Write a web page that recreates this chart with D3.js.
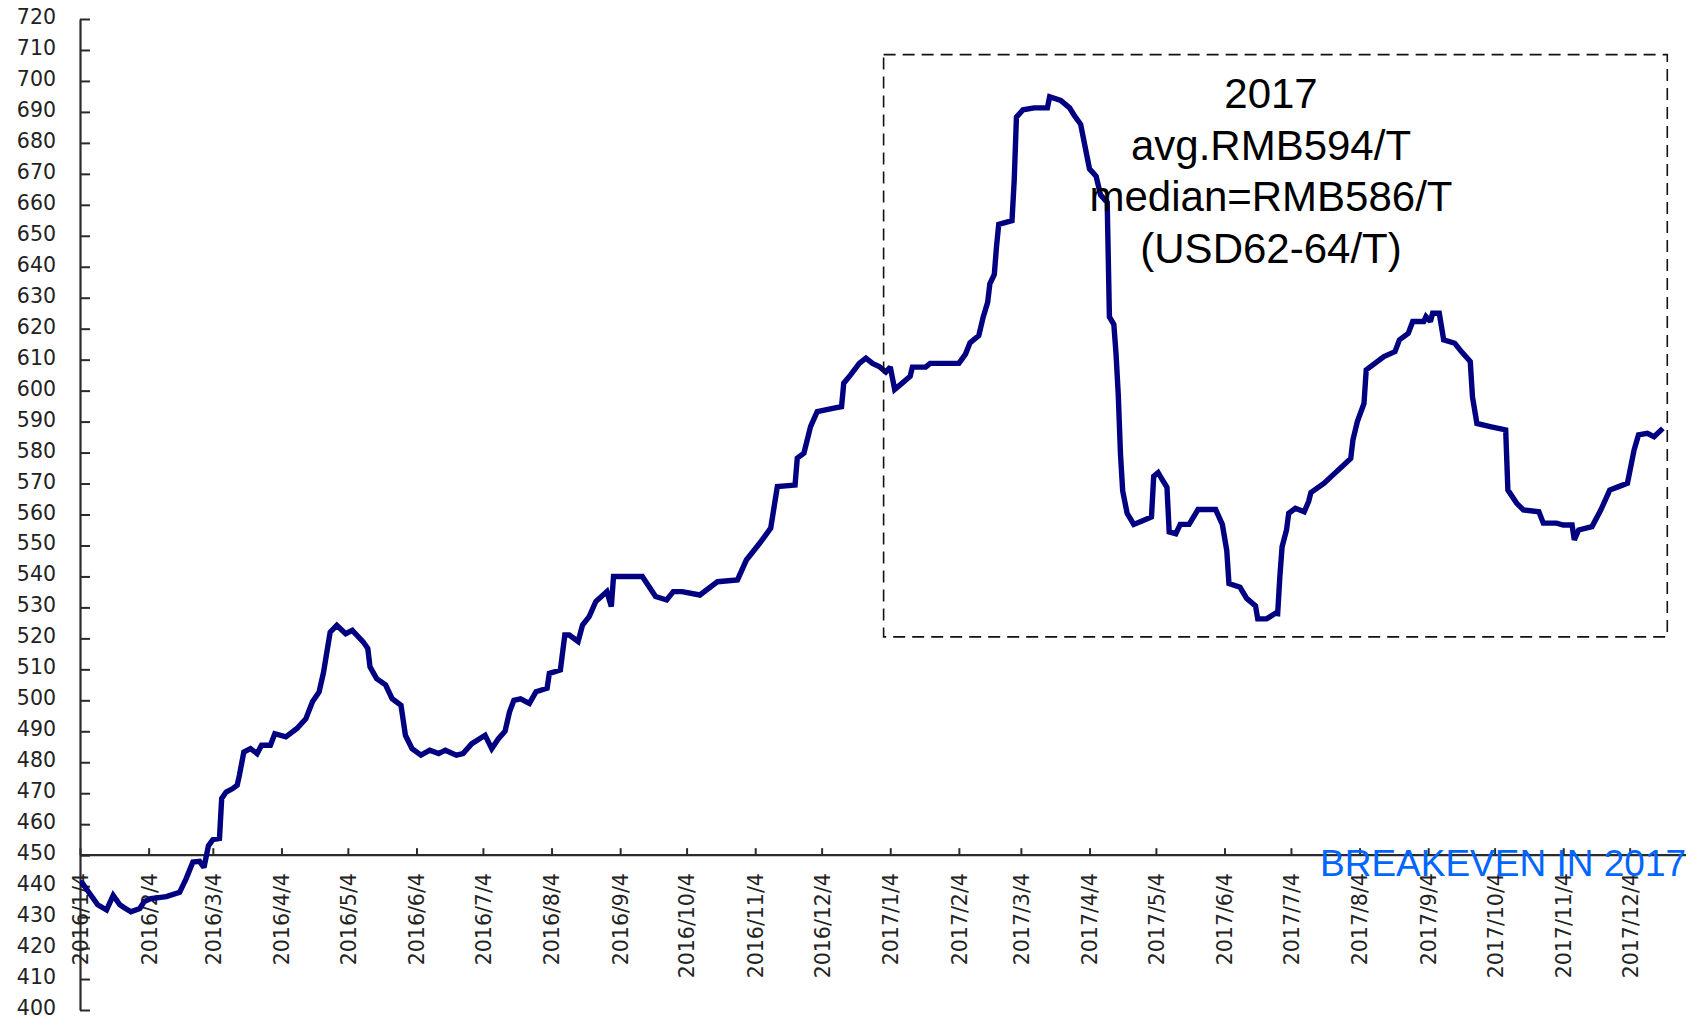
<!DOCTYPE html>
<html>
<head>
<meta charset="utf-8">
<script src="https://cdn.jsdelivr.net/npm/d3@7"></script>
<style>
  html, body { margin: 0; padding: 0; background: #ffffff; }
  svg { display: block; }
</style>
</head>
<body>
<svg id="chart" width="1686" height="1020"></svg>
<script>
// Daily price series, RMB per tonne
const dates = [
  "2016-01-04","2016-01-05","2016-01-07","2016-01-12","2016-01-16","2016-01-19","2016-01-22","2016-01-24","2016-01-27","2016-01-31",
  "2016-02-02","2016-02-05","2016-02-12","2016-02-18","2016-02-21","2016-02-24","2016-02-27","2016-02-29",
  "2016-03-02","2016-03-04","2016-03-07","2016-03-08","2016-03-10","2016-03-13","2016-03-15","2016-03-16","2016-03-18","2016-03-21","2016-03-24","2016-03-26","2016-03-30",
  "2016-04-01","2016-04-06","2016-04-11","2016-04-15","2016-04-18","2016-04-21","2016-04-23","2016-04-25","2016-04-26","2016-04-29",
  "2016-05-03","2016-05-06","2016-05-11","2016-05-13","2016-05-14","2016-05-17","2016-05-21","2016-05-24","2016-05-28","2016-05-30",
  "2016-06-02","2016-06-06","2016-06-10","2016-06-14","2016-06-17","2016-06-22","2016-06-25","2016-06-29",
  "2016-07-05","2016-07-08","2016-07-11","2016-07-14","2016-07-16","2016-07-18","2016-07-21","2016-07-25","2016-07-28",
  "2016-08-02","2016-08-03","2016-08-08","2016-08-10","2016-08-12","2016-08-16","2016-08-18","2016-08-21","2016-08-24","2016-08-29","2016-08-31",
  "2016-09-01","2016-09-07","2016-09-14","2016-09-20","2016-09-25","2016-09-28",
  "2016-10-02","2016-10-10","2016-10-18","2016-10-27","2016-10-31",
  "2016-11-06","2016-11-11","2016-11-14","2016-11-22","2016-11-23","2016-11-26","2016-11-29",
  "2016-12-02","2016-12-09","2016-12-13","2016-12-14","2016-12-17","2016-12-21","2016-12-24","2016-12-27","2016-12-30",
  "2017-01-02","2017-01-04","2017-01-06","2017-01-09","2017-01-13","2017-01-14","2017-01-20","2017-01-22",
  "2017-02-04","2017-02-07","2017-02-09","2017-02-13","2017-02-15","2017-02-17","2017-02-18","2017-02-20","2017-02-21","2017-02-22","2017-02-28",
  "2017-03-01","2017-03-02","2017-03-05","2017-03-10","2017-03-16","2017-03-17","2017-03-22","2017-03-26","2017-03-28","2017-03-31",
  "2017-04-04","2017-04-07","2017-04-09","2017-04-12","2017-04-13","2017-04-15","2017-04-16","2017-04-17","2017-04-18","2017-04-19","2017-04-21","2017-04-24","2017-04-28",
  "2017-05-02","2017-05-03","2017-05-05","2017-05-07","2017-05-09","2017-05-10","2017-05-13","2017-05-15","2017-05-19","2017-05-23","2017-05-31",
  "2017-06-03","2017-06-05","2017-06-06","2017-06-11","2017-06-14","2017-06-18","2017-06-19","2017-06-23","2017-06-27","2017-06-28","2017-06-29","2017-06-30",
  "2017-07-02","2017-07-03","2017-07-06","2017-07-10","2017-07-12","2017-07-13","2017-07-19","2017-07-23","2017-07-27","2017-07-31",
  "2017-08-01","2017-08-03","2017-08-06","2017-08-07","2017-08-10","2017-08-15","2017-08-20","2017-08-22","2017-08-26","2017-08-28",
  "2017-09-02","2017-09-03","2017-09-05","2017-09-06","2017-09-09","2017-09-11","2017-09-16","2017-09-19","2017-09-23","2017-09-24","2017-09-26",
  "2017-10-02","2017-10-09","2017-10-10","2017-10-14","2017-10-17","2017-10-24","2017-10-26",
  "2017-11-01","2017-11-04","2017-11-08","2017-11-09","2017-11-11","2017-11-17","2017-11-21","2017-11-25","2017-11-29",
  "2017-12-03","2017-12-06","2017-12-08","2017-12-12","2017-12-15","2017-12-19"
];

const prices = [
  441, 441, 439, 434, 432.3, 437, 434, 433, 431.7, 432.8,
  435, 436, 436.6, 438, 442.5, 447.8, 448, 446,
  453, 455, 455.4, 468.3, 470.4, 471.5, 472.6, 475.8, 483.3, 484.4, 482.8, 485.5, 485.5,
  489.2, 488.2, 490.9, 494, 499.5, 502.7, 509, 517.7, 522, 524.2,
  521.5, 522.6, 518.8, 516.7, 510.8, 507, 505, 500.5, 498.4, 488.7,
  484.4, 482.3, 483.9, 482.8, 483.9, 482.3, 482.8, 486,
  488.7, 484.4, 487.6, 490, 496.2, 500, 500.5, 499, 502.8,
  503.9, 508.7, 509.8, 521.1, 521.1, 519, 524.3, 527, 531.9, 535.1, 530.3,
  540, 540, 540, 533.5, 532.4, 535.1,
  535.1, 534, 538.3, 538.9, 545.3,
  550.7, 555.6, 569, 569.5, 578.2, 579.8, 588.4,
  593.2, 594.3, 594.8, 602.4, 605, 608.8, 610.5, 608.8, 607.8,
  606, 607.6, 600.4, 602.2, 604.6, 607.6, 607.6, 608.8,
  608.8, 611.8, 615.4, 617.8, 623.8, 628.5, 634.5, 637.5, 646.5, 653.7, 654.9,
  668, 688.3, 690.7, 691.3, 691.3, 694.9, 693.7, 691.3, 689, 686,
  671.6, 669.2, 663.2, 660.8, 623.8, 621.4, 611.8, 598.6, 579.5, 567.6, 560.4, 556.8, 558,
  559.2, 572.3, 573.5, 571.1, 568.8, 554.4, 553.8, 556.8, 556.8, 561.6, 561.6,
  556.8, 548.4, 537.7, 536.5, 532.9, 530.5, 526.3, 526.3, 528.1, 528, 540, 549.6,
  555, 560.4, 562, 560.9, 564.2, 567.1, 570.1, 572.8, 575.4, 578.1,
  584.1, 590, 595.9, 606.7, 608.3, 611, 612.6, 616.4, 618.5, 622.3,
  622.3, 623.9, 622.3, 625, 625, 616.4, 615.3, 612.6, 609.4, 598, 589.4,
  588.4, 587.3, 567.9, 563.6, 561.5, 560.9, 557.2,
  557.2, 556.6, 556.6, 551.8, 555, 556.1, 561.5, 567.9, 569,
  570.1, 580.8, 585.7, 586.2, 585.1, 587.8
];

// Axis ticks
const xTickLabels = [
  "2016/1/4","2016/2/4","2016/3/4","2016/4/4","2016/5/4","2016/6/4","2016/7/4","2016/8/4",
  "2016/9/4","2016/10/4","2016/11/4","2016/12/4","2017/1/4","2017/2/4","2017/3/4","2017/4/4",
  "2017/5/4","2017/6/4","2017/7/4","2017/8/4","2017/9/4","2017/10/4","2017/11/4","2017/12/4"
];
const yTickValues = d3.range(400, 721, 10);

// Annotations
const noteLines = ["2017", "avg.RMB594/T", "median=RMB586/T", "(USD62-64/T)"];
const breakevenLabel = "BREAKEVEN IN 2017";
const boxStart = "2017-01-01", boxEnd = "2017-12-21";
const boxLow = 520.5, boxHigh = 708.5;
const axisCrossValue = 450;

const parseDay = d3.utcParse("%Y-%m-%d");
const parseTick = d3.utcParse("%Y/%m/%d");
const series = dates.map((d, i) => ({ date: parseDay(d), value: prices[i] }));

const svg = d3.select("#chart");

const x = d3.scaleUtc()
  .domain([parseDay("2016-01-04"), parseDay("2017-12-29")])
  .range([80, 1685]);
const y = d3.scaleLinear()
  .domain([400, 720])
  .range([1010, 19]);

const axisColor = "#2b2b2b";
const tickFont = "'DejaVu Sans', Verdana, sans-serif";

// Y axis with inward ticks
const yAxis = svg.append("g")
  .attr("transform", `translate(${x.range()[0]},0)`)
  .call(d3.axisLeft(y).tickValues(yTickValues).tickSize(-10).tickSizeOuter(0).tickPadding(24).tickFormat(d3.format("d")));
yAxis.select(".domain").attr("stroke", axisColor).attr("stroke-width", 2.2);
yAxis.selectAll(".tick line").attr("stroke", axisColor).attr("stroke-width", 2);
yAxis.selectAll(".tick text")
  .attr("dy", "0.22em")
  .attr("fill", "#222")
  .style("font-family", tickFont)
  .style("font-size", "20.5px");

// X axis crossing at 450 with upward ticks and vertical labels
const xAxis = svg.append("g")
  .attr("transform", `translate(0,${y(axisCrossValue)})`)
  .call(d3.axisBottom(x).tickValues(xTickLabels.map(parseTick)).tickSize(-7).tickSizeOuter(0)
    .tickFormat((d, i) => xTickLabels[i]));
xAxis.select(".domain").attr("stroke", axisColor).attr("stroke-width", 2.2)
  .attr("d", `M${x.range()[0]},0H1686`);
xAxis.selectAll(".tick line").attr("stroke", axisColor).attr("stroke-width", 2);
xAxis.selectAll(".tick text")
  .attr("transform", "rotate(-90)")
  .attr("x", -18)
  .attr("y", 0)
  .attr("dy", "0.36em")
  .attr("text-anchor", "end")
  .attr("fill", "#222")
  .style("font-family", tickFont)
  .style("font-size", "20.5px");

// Price line
const line = d3.line()
  .x(d => x(d.date))
  .y(d => y(d.value));
svg.append("path")
  .datum(series)
  .attr("d", line)
  .attr("fill", "none")
  .attr("stroke", "#000080")
  .attr("stroke-width", 5.4)
  .attr("stroke-linejoin", "miter")
  .attr("stroke-miterlimit", 2);

// Dashed frame around 2017
const bx0 = x(parseDay(boxStart)), bx1 = x(parseDay(boxEnd));
svg.append("rect")
  .attr("x", bx0)
  .attr("y", y(boxHigh))
  .attr("width", bx1 - bx0)
  .attr("height", y(boxLow) - y(boxHigh))
  .attr("fill", "none")
  .attr("stroke", "#111")
  .attr("stroke-width", 1.6)
  .attr("stroke-dasharray", "12,7");

// 2017 summary text
svg.append("g")
  .selectAll("text")
  .data(noteLines)
  .join("text")
  .attr("x", 1271)
  .attr("y", (d, i) => 108 + i * 51.5)
  .attr("text-anchor", "middle")
  .attr("fill", "#000")
  .style("font-family", "'Liberation Sans', Arial, sans-serif")
  .style("font-size", "42px")
  .text(d => d);

svg.append("text")
  .attr("x", 1320)
  .attr("y", 876)
  .attr("fill", "#0066ff")
  .style("font-family", "'Liberation Sans', Arial, sans-serif")
  .style("font-size", "37px")
  .text(breakevenLabel);
</script>
</body>
</html>
